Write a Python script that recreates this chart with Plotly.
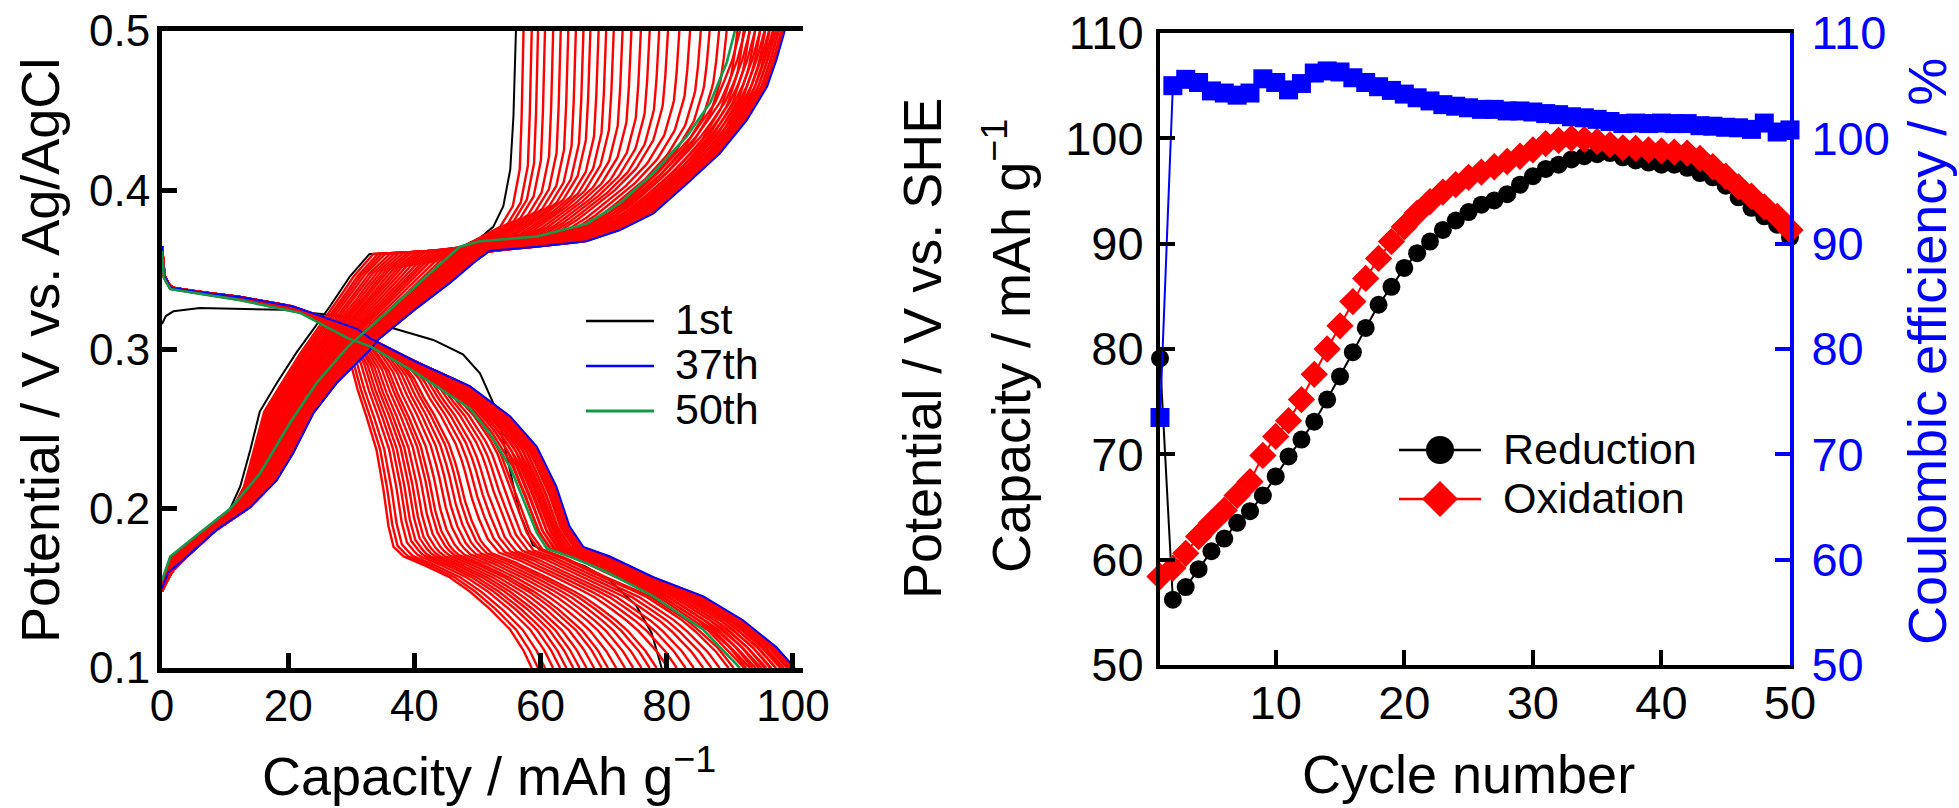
import numpy as np
import plotly.graph_objects as go

W, H = 1959, 808
FONT = "Arial, 'Liberation Sans', sans-serif"

# ---------------- Right panel data ----------------
cycles = list(range(1, 51))
reduction = [79.1, 56.2, 57.4, 59.1, 60.8, 62.0, 63.5, 64.6, 66.1, 67.9,
             69.8, 71.4, 73.1, 75.2, 77.4, 79.7, 82.0, 84.2, 85.9, 87.7,
             89.1, 90.2, 91.3, 92.2, 93.0, 93.7, 94.1, 94.7, 95.6, 96.4,
             97.1, 97.5, 98.0, 98.3, 98.5, 98.6, 98.2, 97.9, 97.7, 97.5,
             97.5, 97.2, 96.7, 96.3, 95.5, 94.4, 93.4, 92.6, 91.8, 90.6]
oxidation = [58.4, 59.2, 60.6, 62.2, 63.5, 64.7, 66.1, 67.4, 69.9, 71.7,
             73.2, 75.2, 77.6, 80.0, 82.2, 84.5, 86.7, 88.6, 90.2, 91.6,
             92.9, 94.0, 94.9, 95.6, 96.3, 96.8, 97.3, 97.8, 98.3, 98.9,
             99.5, 99.8, 100.0, 99.9, 99.7, 99.4, 99.1, 99.05, 98.9, 98.8,
             98.7, 98.6, 98.1, 97.3, 96.4, 95.4, 94.5, 93.5, 92.6, 91.3]
coulombic = [73.5, 105.0, 105.6, 105.3, 104.5, 104.3, 104.1, 104.3, 105.65, 105.3,
             104.6, 105.2, 106.2, 106.4, 106.3, 105.75, 105.3, 104.9, 104.55, 104.2,
             103.85, 103.55, 103.2, 103.05, 102.9, 102.75, 102.75, 102.6, 102.6, 102.5,
             102.35, 102.25, 102.05, 101.95, 101.8, 101.6, 101.4, 101.45, 101.4, 101.45,
             101.4, 101.4, 101.2, 101.15, 101.05, 101.0, 100.85, 101.45, 100.6, 100.8]

# ---------------- Left panel data -------
cycle_ids = list(range(1, 51))
# end capacity of each cycle's oxidation (charge, ends at 0.5 V) and reduction (ends at 0.1 V)
charge_end = [56.1, 57.3, 58.6, 59.6, 60.7, 62.0, 63.2, 64.4, 65.6, 66.8,
              67.9, 69.2, 70.4, 71.6, 73.0, 74.4, 75.9, 77.3, 78.8, 80.2,
              82.0, 83.7, 85.4, 86.8, 88.3, 89.5, 91.2, 92.2, 93.1, 94.0,
              94.8, 95.6, 96.3, 97.0, 97.6, 98.2, 98.7, 98.5, 98.2, 97.8,
              97.3, 96.8, 96.2, 95.5, 94.8, 94.0, 93.2, 92.4, 91.6, 90.8]
discharge_end = [79.2, 58.6, 59.6, 60.7, 62.0, 63.1, 64.1, 65.2, 66.2, 67.3,
                 68.5, 69.7, 70.7, 72.0, 73.4, 74.7, 76.0, 77.3, 78.4, 80.2,
                 81.6, 83.0, 84.3, 85.8, 87.1, 88.4, 89.8, 90.6, 92.6, 93.6,
                 94.6, 95.5, 96.4, 97.3, 98.2, 99.2, 100.3, 100.0, 99.6, 99.1,
                 98.6, 98.0, 97.3, 96.6, 95.8, 95.0, 94.1, 93.2, 92.3, 91.6]

# 1st cycle (black)
chg1_cap = [0, 1.5, 3, 6, 10.8, 12.4, 14, 15.5, 18.2, 21.3, 26.6, 29.8, 32.9, 40, 47.2,
            50.4, 52.5, 54.1, 55.2, 55.7, 56.1]
chg1_v = [0.150, 0.163, 0.170, 0.182, 0.200, 0.214, 0.237, 0.261, 0.279, 0.298, 0.327,
          0.346, 0.360, 0.361, 0.364, 0.370, 0.377, 0.390, 0.413, 0.446, 0.500]
dis1_cap = [0, 0.6, 1.8, 6, 19.2, 28, 36.1, 43, 47.7, 50.4, 53, 55.2, 56.7, 58.8, 62, 67,
            71, 75.2, 77.6, 79.2]
dis1_v = [0.316, 0.321, 0.324, 0.326, 0.325, 0.321, 0.314, 0.306, 0.297, 0.285, 0.262,
          0.224, 0.197, 0.177, 0.171, 0.164, 0.155, 0.139, 0.122, 0.100]

# early red cycle (2nd)
chgE_cap = [0, 1.5, 3, 6, 11.2, 13, 14.6, 16.2, 19, 22, 27.2, 30.4, 33.5, 40, 47, 50.9,
            53.6, 55.6, 56.7, 57.0, 57.3]
chgE_v = [0.148, 0.160, 0.168, 0.180, 0.200, 0.214, 0.237, 0.261, 0.279, 0.298, 0.327,
          0.346, 0.360, 0.361, 0.363, 0.371, 0.377, 0.390, 0.413, 0.446, 0.500]
disE_cap = [0, 0.3, 1.3, 6, 12.4, 19.2, 24.5, 27.5, 29.8, 31, 32.4, 34, 35.1, 35.9, 36.7,
            38.3, 41.9, 45.6, 48.8, 52, 55.2, 57.3, 58.6]
disE_v = [0.365, 0.347, 0.339, 0.336, 0.333, 0.327, 0.321, 0.312, 0.293, 0.275, 0.258,
          0.237, 0.212, 0.189, 0.176, 0.170, 0.164, 0.157, 0.148, 0.137, 0.124, 0.111, 0.100]

# 37th cycle (blue)
chg37_cap = [0, 1, 3.4, 8.7, 14, 18.2, 20.8, 24, 27.7, 33, 34.5, 40.4, 45.7, 49.9, 52,
             59.4, 67.3, 72.6, 77.9, 83.2, 88.4, 92.7, 95.9, 97.4, 98.7]
chg37_v = [0.150, 0.160, 0.168, 0.187, 0.201, 0.218, 0.235, 0.260, 0.279, 0.300, 0.307,
           0.326, 0.342, 0.356, 0.362, 0.3645, 0.368, 0.375, 0.3855, 0.404, 0.423, 0.444,
           0.465, 0.482, 0.500]
dis37_cap = [0, 0.3, 1.3, 6, 12.4, 20.8, 30.9, 33, 40.4, 48.8, 55.2, 59.4, 62.5, 64.6,
             66.8, 71, 77.9, 85.8, 92.1, 97.4, 100.3]
dis37_v = [0.365, 0.347, 0.339, 0.336, 0.333, 0.327, 0.313, 0.307, 0.292, 0.277, 0.258,
           0.239, 0.214, 0.189, 0.176, 0.170, 0.157, 0.145, 0.130, 0.113, 0.100]

# 50th cycle (green)
chg50_cap = [0, 1.3, 6, 10.8, 15.5, 20.3, 24.5, 29.5, 36.1, 41.9, 47.2, 50.4, 59.4, 67.3,
             72.6, 77.9, 83.2, 86.9, 89.5, 90.8]
chg50_v = [0.155, 0.170, 0.185, 0.200, 0.222, 0.254, 0.279, 0.302, 0.325, 0.346, 0.3645,
           0.368, 0.371, 0.379, 0.392, 0.411, 0.434, 0.455, 0.480, 0.500]
dis50_cap = [0, 0.3, 1.3, 6, 12.4, 21.9, 29.5, 33, 40.4, 48.8, 52, 55.2, 57.3, 59.4, 61,
             64.6, 69.9, 77.9, 85.8, 91.6]
dis50_v = [0.362, 0.345, 0.338, 0.335, 0.331, 0.323, 0.307, 0.302, 0.285, 0.263, 0.247,
           0.226, 0.2055, 0.185, 0.175, 0.170, 0.1615, 0.145, 0.124, 0.100]


def blend(capA, vA, capB, vB, q):
    """Curve of end capacity q, shaped between two read curves A and B."""
    qa, qb = capA[-1], capB[-1]
    fa = np.array(capA) / qa
    fb = np.array(capB) / qb
    f = np.unique(np.concatenate([fa, fb]))
    w = min(max((q - qa) / (qb - qa), 0.0), 1.0)
    v = (1 - w) * np.interp(f, fa, vA) + w * np.interp(f, fb, vB)
    return list(f * q), list(v)


fig = go.Figure()


def add_curve(cx, cv, dx, dv, col, lw):
    fig.add_trace(go.Scatter(x=list(dx) + [None] + list(cx), y=list(dv) + [None] + list(cv),
                             mode="lines", line=dict(color=col, width=lw),
                             xaxis="x", yaxis="y", showlegend=False, hoverinfo="skip"))


# ---------------- left panel curves ----------------
# 1st cycle below everything, then red cycles, highlighted cycles on top
add_curve(chg1_cap, chg1_v, dis1_cap, dis1_v, "#000000", 2)
for i, n in enumerate(cycle_ids):
    if n in (1, 37, 50):
        continue
    if n < 37:
        cx, cv = blend(chgE_cap, chgE_v, chg37_cap, chg37_v, charge_end[i])
        dx, dv = blend(disE_cap, disE_v, dis37_cap, dis37_v, discharge_end[i])
    else:
        cx, cv = blend(chg50_cap, chg50_v, chg37_cap, chg37_v, charge_end[i])
        dx, dv = blend(dis50_cap, dis50_v, dis37_cap, dis37_v, discharge_end[i])
    add_curve(cx, cv, dx, dv, "#ff0000", 2.4)
add_curve(chg37_cap, chg37_v, dis37_cap, dis37_v, "#0000ff", 2)
add_curve(chg50_cap, chg50_v, dis50_cap, dis50_v, "#139a48", 2.6)

# ---------------- right panel ----------------
fig.add_trace(go.Scatter(x=cycles, y=reduction, mode="lines+markers", name="Reduction",
                         line=dict(color="black", width=2),
                         marker=dict(symbol="circle", size=18, color="black"),
                         xaxis="x2", yaxis="y3", showlegend=False, cliponaxis=False))
fig.add_trace(go.Scatter(x=cycles, y=oxidation, mode="lines+markers", name="Oxidation",
                         line=dict(color="#ff0000", width=2),
                         marker=dict(symbol="diamond", size=21, color="#ff0000"),
                         xaxis="x2", yaxis="y3", showlegend=False, cliponaxis=False))
fig.add_trace(go.Scatter(x=cycles, y=coulombic, mode="lines+markers", name="CE",
                         line=dict(color="#0000ff", width=2),
                         marker=dict(symbol="square", size=19, color="#0000ff"),
                         xaxis="x2", yaxis="y4", showlegend=False, cliponaxis=False))


# ---------------- axes ----------------
def ax_common(size, color="black", lw=5, standoff=0):
    return dict(showgrid=False, zeroline=False, showline=True, linewidth=lw, linecolor=color,
                ticks="inside", ticklen=15, tickwidth=lw, tickcolor=color,
                tickfont=dict(family=FONT, size=size, color=color),
                ticklabelstandoff=standoff, automargin=False)


L0, L1 = 162 / W, 803 / W
R0, R1 = 1160 / W, 1790 / W
LY0, LY1 = 1 - 668 / H, 1 - 31 / H
RY0, RY1 = 1 - 665 / H, 1 - 33 / H

fig.update_layout(
    width=W, height=H, margin=dict(l=0, r=0, t=0, b=0),
    paper_bgcolor="white", plot_bgcolor="white",
    font=dict(family=FONT, color="black"),
    xaxis=dict(domain=[L0, L1], range=[0, 101.6], anchor="y", mirror=True,
               tickvals=[0, 20, 40, 60, 80, 100], **ax_common(44, standoff=-5)),
    yaxis=dict(domain=[LY0, LY1], range=[0.1, 0.5], anchor="x",
               tickvals=[0.1, 0.2, 0.3, 0.4, 0.5], tickformat=".1f",
               **ax_common(44, standoff=-2)),
    yaxis2=dict(range=[0.3, 0.7], overlaying="y", side="right", anchor="x",
                tickvals=[0.3, 0.4, 0.5, 0.6, 0.7], tickformat=".1f",
                **ax_common(44, standoff=8)),
    xaxis2=dict(domain=[R0, R1], range=[1, 50], anchor="y3", mirror=True,
                tickvals=[10, 20, 30, 40, 50], **ax_common(47, lw=4, standoff=-6)),
    yaxis3=dict(domain=[RY0, RY1], range=[50, 110], anchor="x2",
                tickvals=[50, 60, 70, 80, 90, 100, 110], **ax_common(47, lw=4, standoff=3)),
    yaxis4=dict(range=[50, 110], overlaying="y3", side="right", anchor="x2",
                tickvals=[50, 60, 70, 80, 90, 100, 110],
                **ax_common(47, color="#0000ff", lw=4, standoff=8)),
)


def px(x):
    return x / W


def py(y):
    return 1 - y / H


TS = 54
annotations = [
    dict(text="Potential / V vs. Ag/AgCl", x=px(40), y=py(351), textangle=-90,
         font=dict(size=TS)),
    dict(text="Potential / V vs. SHE", x=px(922), y=py(349), textangle=-90,
         font=dict(size=TS)),
    dict(text="Capacity / mAh g<sup>\u22121</sup>", x=px(489), y=py(772),
         font=dict(size=TS)),
    dict(text="Capacity / mAh g<sup>\u22121</sup>", x=px(1007), y=py(346), textangle=-90,
         font=dict(size=TS)),
    dict(text="Cycle number", x=px(1468), y=py(774), font=dict(size=TS)),
    dict(text="Coulombic efficiency / %", x=px(1927), y=py(352), textangle=-90,
         font=dict(size=TS, color="#0000ff")),
    # legends
    dict(text="1st", x=px(673), y=py(319), xanchor="left", font=dict(size=43)),
    dict(text="37th", x=px(673), y=py(364), xanchor="left", font=dict(size=43)),
    dict(text="50th", x=px(673), y=py(409), xanchor="left", font=dict(size=43)),
    dict(text="Reduction", x=px(1501), y=py(449), xanchor="left", font=dict(size=43)),
    dict(text="Oxidation", x=px(1501), y=py(498), xanchor="left", font=dict(size=43)),
]
for a in annotations:
    a.setdefault("xanchor", "center")
    a.update(xref="paper", yref="paper", yanchor="middle", showarrow=False)
    a["font"].setdefault("color", "black")
    a["font"]["family"] = FONT
fig.update_layout(annotations=annotations)

shapes = [
    dict(type="line", x0=px(586), x1=px(654), y0=py(321), y1=py(321),
         line=dict(color="black", width=2.5)),
    dict(type="line", x0=px(586), x1=px(654), y0=py(366), y1=py(366),
         line=dict(color="#0000ff", width=2.5)),
    dict(type="line", x0=px(586), x1=px(654), y0=py(411), y1=py(411),
         line=dict(color="#139a48", width=3)),
    dict(type="line", x0=px(1399), x1=px(1481), y0=py(450), y1=py(450),
         line=dict(color="black", width=2.5)),
    dict(type="circle", x0=px(1426), x1=px(1454), y0=py(436), y1=py(464),
         fillcolor="black", line=dict(color="black", width=0)),
    dict(type="line", x0=px(1399), x1=px(1481), y0=py(499), y1=py(499),
         line=dict(color="#ff0000", width=2.5)),
    dict(type="path",
         path=f"M {px(1422)},{py(499)} L {px(1440)},{py(481)} L {px(1458)},{py(499)} "
              f"L {px(1440)},{py(517)} Z",
         fillcolor="#ff0000", line=dict(color="#ff0000", width=0)),
]
for s in shapes:
    s.update(xref="paper", yref="paper")
fig.update_layout(shapes=shapes)

fig.write_html("out.html")
